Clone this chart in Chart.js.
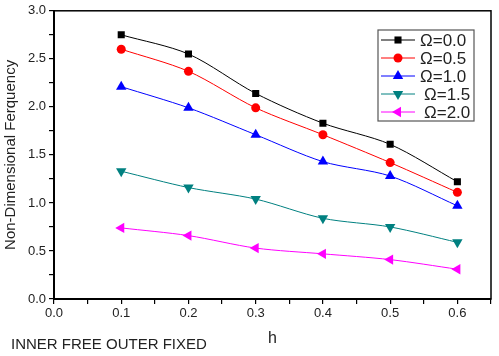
<!DOCTYPE html>
<html>
<head>
<meta charset="utf-8">
<script src="https://cdn.jsdelivr.net/npm/chart.js@4/dist/chart.umd.min.js"></script>
<style>
  body { margin: 0; background: #fff; }
  #wrap { width: 499px; height: 356px; }
</style>
</head>
<body>
<div id="wrap"><canvas id="myChart" width="499" height="356"></canvas></div>
<script>
// data
const hValues = [0.1, 0.2, 0.3, 0.4, 0.5, 0.6]
const omega00 = [2.75, 2.55, 2.14, 1.83, 1.61, 1.22]
const omega05 = [2.60, 2.37, 1.99, 1.71, 1.42, 1.11]
const omega10 = [2.21, 1.99, 1.71, 1.43, 1.28, 0.97]
const omega15 = [1.33, 1.16, 1.04, 0.84, 0.75, 0.59]
const omega20 = [0.74, 0.66, 0.53, 0.47, 0.41, 0.31]
const seriesLabels = ['\u03A9=0.0', '\u03A9=0.5', '\u03A9=1.0', '\u03A9=1.5', '\u03A9=2.0']

const toPoints = (ys) => ys.map((y, i) => ({ x: hValues[i], y: y }))

const styles = [
  { color: '#000000', marker: 'rect', radius: 5 },
  { color: '#ff0000', marker: 'circle', radius: 4.5 },
  { color: '#0000ff', marker: 'triangle', radius: 6, rotation: 0 },
  { color: '#008080', marker: 'triangle', radius: 6, rotation: 180 },
  { color: '#ff00ff', marker: 'triangle', radius: 6, rotation: 270 }
]
const allSeries = [omega00, omega05, omega10, omega15, omega20]
const fontFamily = '"Liberation Sans", Arial, sans-serif'

// frame around the plot + legend box + footer text
const extras = {
  id: 'extras',
  afterDraw(chart) {
    const ctx = chart.ctx
    const a = chart.chartArea
    ctx.save()
    ctx.strokeStyle = '#000'
    ctx.lineWidth = 1.5
    ctx.strokeRect(a.left, a.top, a.right - a.left, a.bottom - a.top)

    // legend
    const bx = 378, by = 30, bw = 96, bh = 91
    ctx.fillStyle = '#fff'
    ctx.fillRect(bx, by, bw, bh)
    ctx.strokeStyle = '#555'
    ctx.lineWidth = 1.2
    ctx.strokeRect(bx, by, bw, bh)
    ctx.font = '17px ' + fontFamily
    ctx.textBaseline = 'middle'
    chart.data.datasets.forEach((ds, i) => {
      const y = by + 10 + i * 18
      ctx.strokeStyle = ds.borderColor
      ctx.lineWidth = 1
      ctx.beginPath()
      ctx.moveTo(bx + 3, y)
      ctx.lineTo(bx + 37, y)
      ctx.stroke()
      ctx.fillStyle = ds.borderColor
      Chart.helpers.drawPoint(ctx, {
        pointStyle: ds.pointStyle, radius: ds.pointRadius, rotation: ds.pointRotation || 0, borderWidth: 0
      }, bx + 20, y)
      ctx.fillStyle = '#222'
      ctx.fillText(seriesLabels[i], bx + (i < 3 ? 42 : 46), y + 1)
    })

    ctx.font = '15px ' + fontFamily
    ctx.fillStyle = '#222'
    ctx.textBaseline = 'alphabetic'
    ctx.fillText('INNER FREE OUTER FIXED', 11, 349)
    ctx.restore()
  }
}

new Chart(document.getElementById('myChart').getContext('2d'), {
  type: 'line',
  data: {
    datasets: allSeries.map((ys, i) => ({
      label: seriesLabels[i],
      data: toPoints(ys),
      fill: false,
      borderColor: styles[i].color,
      backgroundColor: styles[i].color,
      borderWidth: 1,
      tension: 0.3,
      pointStyle: styles[i].marker,
      pointRadius: styles[i].radius,
      pointHoverRadius: styles[i].radius,
      pointRotation: styles[i].rotation || 0,
      pointBorderWidth: 0
    }))
  },
  options: {
    responsive: false,
    animation: false,
    layout: { padding: { top: 7, right: 8, left: 0, bottom: 0 } },
    plugins: { legend: { display: false }, tooltip: { enabled: false } },
    scales: {
      x: {
        type: 'linear',
        min: 0, max: 0.65,
        afterFit: (s) => { s.height = 57 },
        border: { color: '#000', width: 2 },
        grid: { drawOnChartArea: false, color: '#000', tickLength: 5, lineWidth: 1.2 },
        ticks: {
          stepSize: 0.05,
          autoSkip: false,
          maxRotation: 0,
          color: '#222',
          padding: 2,
          font: { family: fontFamily, size: 13 },
          callback: (v) => (Math.round(v * 100) % 10 === 0 ? v.toFixed(1) : '')
        },
        title: {
          display: true, text: 'h', color: '#222',
          font: { family: fontFamily, size: 16 },
          padding: { top: -8, bottom: 8 }
        }
      },
      y: {
        min: 0, max: 3,
        afterFit: (s) => { s.width = 54 },
        border: { color: '#000', width: 2 },
        grid: { drawOnChartArea: false, color: '#000', tickLength: 5, lineWidth: 1.2 },
        ticks: {
          stepSize: 0.25,
          autoSkip: false,
          color: '#222',
          padding: 3,
          font: { family: fontFamily, size: 13 },
          callback: (v) => (Math.round(v * 100) % 50 === 0 ? v.toFixed(1) : '')
        },
        title: {
          display: true, text: 'Non-Dimensional Ferquency', color: '#222',
          font: { family: fontFamily, size: 15 },
          padding: { top: 2, bottom: 0 }
        }
      }
    }
  },
  plugins: [extras]
})
</script>
</body>
</html>
